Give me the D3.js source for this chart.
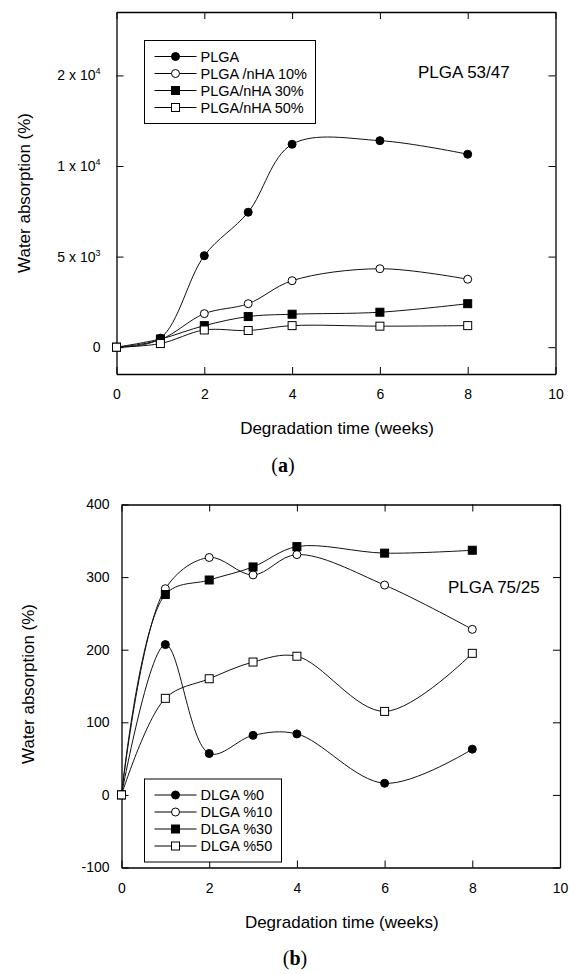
<!DOCTYPE html>
<html>
<head>
<meta charset="utf-8">
<script src="https://cdn.jsdelivr.net/npm/d3@7"></script>
<style>
  body { margin: 0; background: #fff; }
  svg { display: block; font-family: "Liberation Sans", Arial, sans-serif; }
</style>
</head>
<body>
<div id="chart"></div>
<script>
// ---- data ----
var weeks = [0, 1, 2, 3, 4, 6, 8];

// panel (a) PLGA 53/47
var namesA = ["PLGA", "PLGA /nHA 10%", "PLGA/nHA 30%", "PLGA/nHA 50%"];
var plga0 = [0, 500, 5050, 7450, 11200, 11400, 10650];
var plga10 = [0, 420, 1850, 2400, 3670, 4330, 3750];
var plga30 = [0, 450, 1190, 1690, 1820, 1930, 2400];
var plga50 = [0, 200, 950, 920, 1190, 1160, 1190];
var yTicksA = [0, 5000, 10000, 15000];
var yTickBaseA = ["0", "5 x 10", "1 x 10", "2 x 10"];
var yTickExpA = ["", "3", "4", "4"];

// panel (b) PLGA 75/25
var namesB = ["DLGA %0", "DLGA %10", "DLGA %30", "DLGA %50"];
var dlga0 = [0, 207, 57, 82, 84, 16, 63];
var dlga10 = [0, 284, 327, 303, 331, 289, 228];
var dlga30 = [0, 276, 296, 314, 342, 333, 337];
var dlga50 = [0, 133, 160, 183, 191, 115, 195];
var yTicksB = [-100, 0, 100, 200, 300, 400];

var xTicks = [0, 2, 4, 6, 8, 10];
var markers = ["circleFilled", "circleOpen", "squareFilled", "squareOpen"];

var svg = d3.select("#chart").append("svg")
    .attr("width", 569)
    .attr("height", 974);

function drawMarker(g, type, cx, cy) {
    if (type.indexOf("circle") === 0) {
        g.append("circle")
            .attr("cx", cx).attr("cy", cy).attr("r", 4)
            .attr("fill", type === "circleFilled" ? "#000" : "#fff")
            .attr("stroke", "#000").attr("stroke-width", 1);
    } else {
        g.append("rect")
            .attr("x", cx - 4).attr("y", cy - 4)
            .attr("width", 8).attr("height", 8)
            .attr("fill", type === "squareFilled" ? "#000" : "#fff")
            .attr("stroke", "#000").attr("stroke-width", 1);
    }
}

function drawPanel(opt) {
    var x = d3.scaleLinear().domain([0, 10]).range([opt.left, opt.right]);
    var y = d3.scaleLinear().domain(opt.yDomain).range([opt.bottom, opt.top]);
    var g = svg.append("g");

    // frame + inward ticks on all sides
    g.append("g")
        .attr("transform", "translate(0," + opt.bottom + ")")
        .call(d3.axisBottom(x).tickValues(xTicks).tickSizeInner(-7).tickSizeOuter(0).tickPadding(opt.xPad));
    g.append("g")
        .attr("transform", "translate(0," + opt.top + ")")
        .call(d3.axisTop(x).tickValues(xTicks).tickSizeInner(-7).tickSizeOuter(0).tickFormat(""));
    var yl = g.append("g")
        .attr("transform", "translate(" + opt.left + ",0)")
        .call(d3.axisLeft(y).tickValues(opt.yTicks).tickSizeInner(-7).tickSizeOuter(0)
            .tickPadding(opt.yPad).tickFormat(function (d) { return String(d); }));
    g.append("g")
        .attr("transform", "translate(" + opt.right + ",0)")
        .call(d3.axisRight(y).tickValues(opt.yTicks).tickSizeInner(-7).tickSizeOuter(0).tickFormat(""));

    g.selectAll(".domain").attr("stroke", "#000").attr("stroke-width", 1.3);
    g.selectAll(".tick line").attr("stroke", "#000");
    g.selectAll(".tick text").attr("font-size", 14).attr("fill", "#000")
        .attr("font-family", "Liberation Sans, Arial, sans-serif");

    if (opt.yExp) {
        // labels like 5 x 10^3
        yl.selectAll(".tick text").each(function (d, i) {
            var t = d3.select(this).text("");
            t.append("tspan").text(opt.yBase[i]);
            if (opt.yExp[i]) {
                t.append("tspan").attr("font-size", 9).attr("dy", -6).text(opt.yExp[i]);
            }
        });
    }

    // curves
    var line = d3.line()
        .x(function (d, i) { return x(weeks[i]); })
        .y(function (d) { return y(d); })
        .curve(d3.curveCatmullRom.alpha(0.5));

    opt.series.forEach(function (s) {
        g.append("path")
            .attr("d", line(s))
            .attr("fill", "none")
            .attr("stroke", "#111")
            .attr("stroke-width", 1);
    });
    opt.series.forEach(function (s, k) {
        s.forEach(function (v, i) {
            drawMarker(g, markers[k], x(weeks[i]), y(v));
        });
    });

    // legend
    var lg = g.append("g");
    lg.append("rect")
        .attr("x", opt.legend.x).attr("y", opt.legend.y)
        .attr("width", opt.legend.w).attr("height", opt.legend.h)
        .attr("fill", "#fff").attr("stroke", "#000").attr("stroke-width", 1);
    opt.names.forEach(function (n, k) {
        var ly = opt.legend.y + 16 + k * 17;
        lg.append("line")
            .attr("x1", opt.legend.x + 10).attr("x2", opt.legend.x + 52)
            .attr("y1", ly).attr("y2", ly)
            .attr("stroke", "#000");
        drawMarker(lg, markers[k], opt.legend.x + 31, ly);
        lg.append("text")
            .attr("x", opt.legend.x + 56).attr("y", ly + 5)
            .attr("font-size", 14.5).attr("fill", "#000")
            .text(n);
    });

    // annotation
    g.append("text")
        .attr("x", opt.note.x).attr("y", opt.note.y)
        .attr("font-size", 17).attr("fill", "#000")
        .text(opt.note.text);

    // axis titles
    g.append("text")
        .attr("x", (opt.left + opt.right) / 2 + 1).attr("y", opt.bottom + 60)
        .attr("text-anchor", "middle").attr("font-size", 17)
        .text("Degradation time (weeks)");
    g.append("text")
        .attr("transform", "translate(" + opt.yTitleX + "," + opt.yTitleY + ") rotate(-90)")
        .attr("text-anchor", "middle").attr("font-size", 17)
        .text("Water absorption (%)");

    // panel letter
    var pl = g.append("text")
        .attr("x", opt.letter.x).attr("y", opt.letter.y)
        .attr("text-anchor", "middle")
        .attr("font-family", "Liberation Serif, Times New Roman, serif")
        .attr("font-size", 20);
    pl.append("tspan").text("(");
    pl.append("tspan").attr("font-weight", "bold").text(opt.letter.text);
    pl.append("tspan").text(")");
}

drawPanel({
    left: 116.5, right: 555.5, top: 12, bottom: 374,
    yDomain: [-1480, 18500], yTicks: yTicksA, yPad: 16, xPad: 15,
    yBase: yTickBaseA, yExp: yTickExpA,
    series: [plga0, plga10, plga30, plga50], names: namesA,
    legend: { x: 144.5, y: 40.5, w: 171, h: 83 },
    note: { x: 418, y: 78, text: "PLGA 53/47" },
    yTitleX: 30, yTitleY: 193,
    letter: { x: 283, y: 472, text: "a" }
});

drawPanel({
    left: 121.5, right: 560, top: 504.5, bottom: 867.5,
    yDomain: [-100, 400], yTicks: yTicksB, yPad: 12, xPad: 16,
    series: [dlga0, dlga10, dlga30, dlga50], names: namesB,
    legend: { x: 144.5, y: 779, w: 137, h: 83 },
    note: { x: 448, y: 593, text: "PLGA 75/25" },
    yTitleX: 34, yTitleY: 684,
    letter: { x: 295, y: 965, text: "b" }
});
</script>
</body>
</html>
